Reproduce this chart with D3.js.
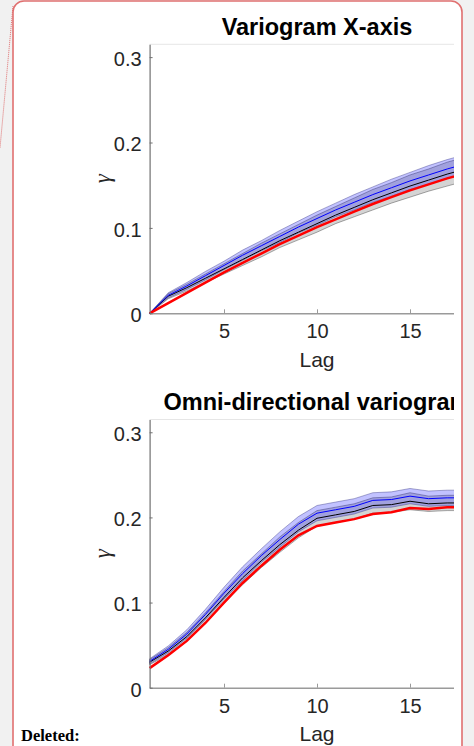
<!DOCTYPE html>
<html><head><meta charset="utf-8">
<script src="https://cdn.jsdelivr.net/npm/d3@7"></script>
<style>html,body{margin:0;padding:0;background:#f1f1f1;}svg{display:block;}</style>
</head><body>
<script>
// ---- data ----
const lags = [1,2,3,4,5,6,7,8,9,10,11,12,13,14,15,16,17,18];
const xTicks = [5,10,15];
const yTicks = [0,0.1,0.2,0.3];
const yTickLabels = ["0","0.1","0.2","0.3"];
const titles = ["Variogram X-axis","Omni-directional variogram"];

// Panel 1: X-axis variogram
const redX   = [0,0.012,0.024,0.036,0.048,0.059,0.070,0.081,0.091,0.101,0.110,0.119,0.128,0.136,0.144,0.151,0.158,0.164];
const blueX  = [0,0.021,0.032,0.044,0.056,0.068,0.079,0.090,0.101,0.111,0.121,0.130,0.139,0.147,0.155,0.162,0.169,0.175];
const blackX = [0,0.020,0.030,0.041,0.052,0.063,0.074,0.085,0.095,0.105,0.115,0.124,0.133,0.141,0.149,0.156,0.163,0.169];
const blueSpreadX = [0,0.003,0.004,0.005,0.005,0.006,0.006,0.007,0.007,0.008,0.008,0.009,0.009,0.010,0.010,0.011,0.011,0.011];
const graySpreadX = [0,0.003,0.004,0.005,0.006,0.007,0.008,0.008,0.009,0.010,0.010,0.011,0.012,0.012,0.013,0.013,0.014,0.014];

// Panel 2: omni-directional variogram
const redO   = [0.023,0.038,0.055,0.076,0.100,0.123,0.143,0.162,0.179,0.190,0.194,0.198,0.204,0.206,0.211,0.210,0.212,0.212];
const blueO  = [0.031,0.045,0.063,0.086,0.111,0.134,0.155,0.174,0.192,0.205,0.209,0.213,0.220,0.221,0.225,0.222,0.223,0.223];
const blackO = [0.030,0.043,0.060,0.082,0.106,0.129,0.149,0.168,0.185,0.199,0.203,0.207,0.214,0.215,0.219,0.216,0.217,0.217];
const blueSpreadO = [0.003,0.004,0.005,0.006,0.007,0.008,0.008,0.009,0.009,0.009,0.009,0.009,0.009,0.009,0.009,0.009,0.009,0.009];
const graySpreadO = [0.003,0.004,0.005,0.006,0.007,0.008,0.008,0.009,0.009,0.009,0.009,0.009,0.009,0.009,0.010,0.009,0.009,0.009];

const W = 474, H = 746;
const svg = d3.select("body").append("svg").attr("width", W).attr("height", H);

// page / comment bubble
svg.append("rect").attr("x",0).attr("y",0).attr("width",W).attr("height",H).attr("fill","#f1f1f1");
svg.append("rect").attr("x",13).attr("y",1).attr("width",449).attr("height",758).attr("rx",11)
  .attr("fill","#ffffff").attr("stroke","#e07070").attr("stroke-width",1.6);
svg.append("line").attr("x1",13).attr("y1",6).attr("x2",0).attr("y2",148)
  .attr("stroke","#e07070").attr("stroke-width",1).attr("stroke-dasharray","1,1");
svg.append("text").attr("x",21).attr("y",741).text("Deleted:")
  .attr("font-family","Liberation Serif, Times New Roman, serif").attr("font-weight","bold")
  .attr("font-size",16.5).attr("fill","#000");

const clip = svg.append("defs").append("clipPath").attr("id","clipFig");
clip.append("rect").attr("x",0).attr("y",0).attr("width",454).attr("height",H);

const fig = svg.append("g").attr("clip-path","url(#clipFig)");

const x = d3.scaleLinear().domain([1,19]).range([149.6,484.4]);

const panels = [
  {top:44.3, bottom:313.3, red:redX, blue:blueX, black:blackX, bs:blueSpreadX, gs:graySpreadX, title:titles[0], titleY:35, lagY:367},
  {top:419.5, bottom:687.7, red:redO, blue:blueO, black:blackO, bs:blueSpreadO, gs:graySpreadO, title:titles[1], titleY:410, lagY:741}
];

const font = "Liberation Sans, Arial, Helvetica, sans-serif";

panels.forEach(p => {
  const y = d3.scaleLinear().domain([0,0.315]).range([p.bottom,p.top]);
  const g = fig.append("g");

  // faint top box edge
  g.append("line").attr("x1",x(1)).attr("x2",484).attr("y1",p.top).attr("y2",p.top)
    .attr("stroke","#e6e6e6").attr("stroke-width",1);

  const area = (vals, spread) => d3.area()
    .x((d,i)=>x(lags[i])).y0((d,i)=>y(vals[i]-spread[i])).y1((d,i)=>y(vals[i]+spread[i]))(lags);
  const line = vals => d3.line().x((d,i)=>x(lags[i])).y((d,i)=>y(vals[i]))(lags);

  g.append("path").attr("d",area(p.black,p.gs)).attr("fill","rgba(0,0,0,0.17)")
    .attr("stroke","rgba(0,0,0,0.32)").attr("stroke-width",1);
  g.append("path").attr("d",area(p.blue,p.bs)).attr("fill","rgba(0,0,255,0.24)")
    .attr("stroke","rgba(40,40,120,0.38)").attr("stroke-width",1);
  g.append("path").attr("d",line(p.black)).attr("fill","none").attr("stroke","#000").attr("stroke-width",1);
  g.append("path").attr("d",line(p.blue)).attr("fill","none").attr("stroke","#0000ff").attr("stroke-width",1);
  g.append("path").attr("d",line(p.red)).attr("fill","none").attr("stroke","#ff0000").attr("stroke-width",2.5);

  // axes
  const xAxis = d3.axisBottom(x).tickValues(xTicks).tickSizeInner(-4).tickSizeOuter(0).tickPadding(11);
  const xg = g.append("g").attr("transform",`translate(0,${p.bottom})`).call(xAxis);
  xg.select(".domain").attr("stroke","#9a9a9a").attr("stroke-width",1.5);
  xg.selectAll(".tick line").attr("stroke","#9a9a9a");
  xg.selectAll(".tick text").attr("font-family",font).attr("font-size",20).attr("fill","#262626");

  const yAxis = d3.axisLeft(y).tickValues(yTicks).tickFormat((d,i)=>yTickLabels[i])
    .tickSizeInner(-3).tickSizeOuter(0).tickPadding(8);
  const yg = g.append("g").attr("transform",`translate(${x(1)},0)`).call(yAxis);
  yg.select(".domain").attr("stroke","#707070").attr("stroke-width",1.2);
  yg.selectAll(".tick line").attr("stroke","#707070");
  yg.selectAll(".tick text").attr("font-family",font).attr("font-size",20).attr("fill","#262626")
    .attr("dy","0.42em");

  // labels
  g.append("text").attr("x",317).attr("y",p.lagY).attr("text-anchor","middle")
    .attr("font-family",font).attr("font-size",21).attr("fill","#262626").text("Lag");
  g.append("text").attr("transform",`translate(110,${(p.top+p.bottom)/2}) rotate(-90)`)
    .attr("text-anchor","middle").attr("font-family","Liberation Serif, DejaVu Serif, serif")
    .attr("font-style","italic").attr("font-size",23).attr("fill","#262626").text("γ");
  g.append("text").attr("x",317).attr("y",p.titleY).attr("text-anchor","middle")
    .attr("font-family",font).attr("font-weight","bold").attr("font-size",23.5).attr("fill","#000").text(p.title);
});
</script>
</body></html>
